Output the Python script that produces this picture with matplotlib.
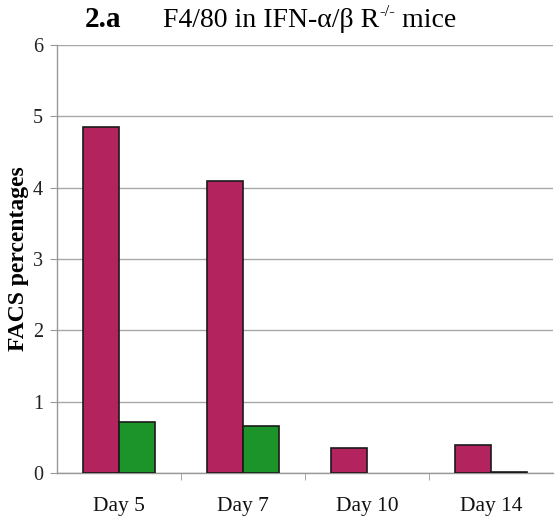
import matplotlib
matplotlib.use("Agg")
import matplotlib.pyplot as plt
import numpy as np

days = ["Day 5", "Day 7", "Day 10", "Day 14"]
series_a = [4.85, 4.10, 0.35, 0.39]
series_b = [0.72, 0.66, 0.0, 0.02]
y_ticks = [0, 1, 2, 3, 4, 5, 6]

plt.rcParams["font.family"] = ["Liberation Serif", "DejaVu Serif"]

fig = plt.figure(figsize=(5.59, 5.23), dpi=100)
ax = fig.add_axes([0.102, 0.0956, 0.888, 0.818])

x = np.arange(len(days))
w = 0.29
edge = "#1a1a1a"
lw_a = [1.2 if v > 0 else 0 for v in series_a]
lw_b = [1.2 if v > 0 else 0 for v in series_b]
ax.bar(x - w / 2, series_a, width=w, color="#B3235E", edgecolor=edge, linewidth=lw_a, zorder=3)
ax.bar(x + w / 2, series_b, width=w, color="#1C9429", edgecolor=edge, linewidth=lw_b, zorder=3)

ax.set_xlim(-0.5, len(days) - 0.5)
ax.set_ylim(0, 6)
ax.set_yticks(y_ticks)
ax.set_yticklabels([str(t) for t in y_ticks], fontsize=14.5, color="#222222")
ax.yaxis.grid(True, color="#a8a8a8", linewidth=1.0, zorder=0)

ax.set_xticks(x)
ax.set_xticklabels(days, fontsize=15.5, color="#111111")
ax.tick_params(axis="x", length=0, pad=17)
ax.set_xticks(np.arange(0.5, len(days) - 0.5, 1), minor=True)
ax.tick_params(axis="x", which="minor", length=5, color="#999999", direction="out")
ax.tick_params(axis="y", length=5, color="#999999", direction="out", pad=5)

for side in ["top", "right"]:
    ax.spines[side].set_visible(False)
for side in ["left", "bottom"]:
    ax.spines[side].set_color("#999999")
    ax.spines[side].set_linewidth(1.0)

ax.set_ylabel("FACS percentages", fontsize=17, fontweight="bold", va="center")
ax.yaxis.set_label_coords(-0.078, 0.5)

# Title: bold panel number, then the description with a superscript
base_y = 0.948
fig.text(0.152, base_y, "2.a", fontsize=21, fontweight="bold", va="baseline", ha="left")
fig.canvas.draw()
r = fig.canvas.get_renderer()
t1 = fig.text(0.292, base_y, "F4/80 in IFN-α/β R", fontsize=20, va="baseline", ha="left")
bb = t1.get_window_extent(r)
x1 = bb.x1 / fig.bbox.width
t2 = fig.text(x1, base_y + 0.021, "-/-", fontsize=12, va="baseline", ha="left")
bb2 = t2.get_window_extent(r)
x2 = bb2.x1 / fig.bbox.width
fig.text(x2, base_y, " mice", fontsize=20, va="baseline", ha="left")

fig.savefig("out.png", dpi=100)
